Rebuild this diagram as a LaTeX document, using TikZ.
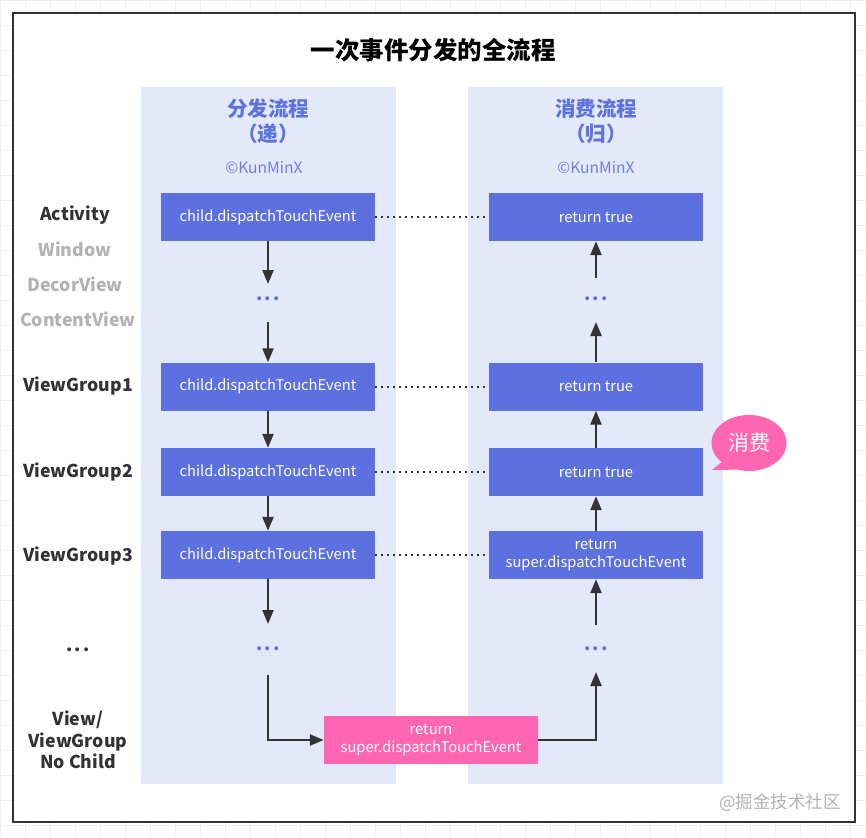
\documentclass[tikz,border=0pt]{standalone}
\usepackage{fontspec}
\setmainfont{Noto Sans CJK SC}
\usetikzlibrary{arrows.meta,shapes.geometric}
\definecolor{boxblue}{HTML}{5C70E0}
\definecolor{colbg}{HTML}{E4E9F9}
\definecolor{headblue}{HTML}{5D73DF}
\definecolor{credblue}{HTML}{6E80E2}
\definecolor{pinkc}{HTML}{FF66B2}
\definecolor{graylbl}{HTML}{B3B3B3}
\definecolor{darklbl}{HTML}{333333}
\definecolor{gridc}{HTML}{EFEFEF}
\newcommand{\tridots}{.\hspace{2.5pt}.\hspace{2.5pt}.}
\tikzset{
  colbox/.style={fill=colbg,draw=none,minimum width=255,minimum height=696,inner sep=0},
  bluebox/.style={fill=boxblue,draw=none,text=white,minimum width=214,minimum height=48,inner sep=0,align=center,font=\fontsize{14.7}{17.5}\selectfont},
  pinkbox/.style={fill=pinkc,draw=none,text=white,minimum width=214,minimum height=48,inner sep=0,align=center,font=\fontsize{14.7}{17.5}\selectfont},
  lbl/.style={text=darklbl,align=center,font=\fontsize{17.7}{21.5}\selectfont\bfseries},
  glbl/.style={text=graylbl,font=\fontsize{17.7}{21}\selectfont\bfseries},
  dotsn/.style={text=boxblue,font=\fontsize{18}{18}\selectfont\bfseries},
  flow/.style={draw=darklbl,line width=2.4pt,-{Triangle[length=14pt,width=11pt]}},
  link/.style={draw=darklbl,line width=2pt,dash pattern=on 2pt off 4pt},
  head/.style={text=headblue,align=center,font=\fontsize{20.5}{25}\selectfont\bfseries},
  credit/.style={text=credblue,font=\fontsize{15.6}{15.6}\selectfont},
  bubble/.style={ellipse,fill=pinkc,draw=none,text=white,minimum width=75,minimum height=56,inner sep=0,font=\fontsize{21}{21}\selectfont}
}
\begin{document}
\begin{tikzpicture}[x=1pt,y=-1pt]
\useasboundingbox (0,0) rectangle (866,837);
% background grid
\draw[gridc,line width=0.8pt,step=25pt] (0,0) grid (866,837);
% frame
\node[draw=darklbl,line width=2pt,fill=white,minimum width=842,minimum height=809,inner sep=0] (frame) at (434,417.5) {};
% title
\node[text=black,font=\fontsize{24.5}{24.5}\selectfont\bfseries] (title) at (433,50) {一次事件分发的全流程};
% columns
\node[colbox] (colL) at (268,435.5) {};
\node[colbox] (colR) at (595.5,435.5) {};
% headers
\node[head] (headL) at (268,121) {分发流程\\（递）};
\node[head] (headR) at (596,121) {消费流程\\（归）};
\node[credit] (credL) at (264,168) {©KunMinX};
\node[credit] (credR) at (596,168) {©KunMinX};
% left labels
\node[lbl] (lAct) at (75,215) {Activity};
\node[glbl] (lWin) at (75,249) {Window};
\node[glbl] (lDec) at (75,284) {DecorView};
\node[glbl] (lCon) at (78,319) {ContentView};
\node[lbl] (lVG1) at (78,386) {ViewGroup1};
\node[lbl] (lVG2) at (78,472) {ViewGroup2};
\node[lbl] (lVG3) at (78,556) {ViewGroup3};
\node[lbl] (lDots) at (78,650) {\tridots};
\node[lbl] (lView) at (78,740) {View/\\ViewGroup\\No Child};
% left boxes
\node[bluebox] (L1) at (268,217) {child.dispatchTouchEvent};
\node[bluebox] (L2) at (268,386.5) {child.dispatchTouchEvent};
\node[bluebox] (L3) at (268,472) {child.dispatchTouchEvent};
\node[bluebox] (L4) at (268,555) {child.dispatchTouchEvent};
% right boxes
\node[bluebox] (R1) at (596,217) {return true};
\node[bluebox] (R2) at (596,386.5) {return true};
\node[bluebox] (R3) at (596,472) {return true};
\node[bluebox] (R4) at (596,555) {return\\super.dispatchTouchEvent};
% pink box
\node[pinkbox] (P) at (431,740) {return\\super.dispatchTouchEvent};
% dots
\node[dotsn] (dL1) at (268,299) {\tridots};
\node[dotsn] (dL2) at (268,649) {\tridots};
\node[dotsn] (dR1) at (596,299) {\tridots};
\node[dotsn] (dR2) at (596,649) {\tridots};
% coordinates for arrow ends near dots
\coordinate (aL1) at (268,284);
\coordinate (bL1) at (268,322);
\coordinate (aL2) at (268,624);
\coordinate (bL2) at (268,675);
\coordinate (aR1) at (596,278);
\coordinate (bR1) at (596,322);
\coordinate (aR2) at (596,625);
\coordinate (bR2) at (596,672);
% left flow
\draw[flow] (L1.south) -- (aL1);
\draw[flow] (bL1) -- (L2.north);
\draw[flow] (L2.south) -- (L3.north);
\draw[flow] (L3.south) -- (L4.north);
\draw[flow] (L4.south) -- (aL2);
\draw[flow] (bL2) |- (P.west);
% right flow
\draw[flow] (P.east) -| (bR2);
\draw[flow] (aR2) -- (R4.south);
\draw[flow] (R4.north) -- (R3.south);
\draw[flow] (R3.north) -- (R2.south);
\draw[flow] (R2.north) -- (bR1);
\draw[flow] (aR1) -- (R1.south);
% dotted links
\draw[link] (L1.east) -- (R1.west);
\draw[link] (L2.east) -- (R2.west);
\draw[link] (L3.east) -- (R3.west);
\draw[link] (L4.east) -- (R4.west);
% bubble
\node[bubble] (cons) at (749,443) {消费};
\coordinate (tail) at (712,470);
\fill[pinkc] (cons.215) -- (tail) -- (cons.245) -- cycle;
% watermark
\node[text=graylbl,font=\fontsize{17.5}{17.5}\selectfont] (wm) at (780,803) {@掘金技术社区};
\end{tikzpicture}
\end{document}
